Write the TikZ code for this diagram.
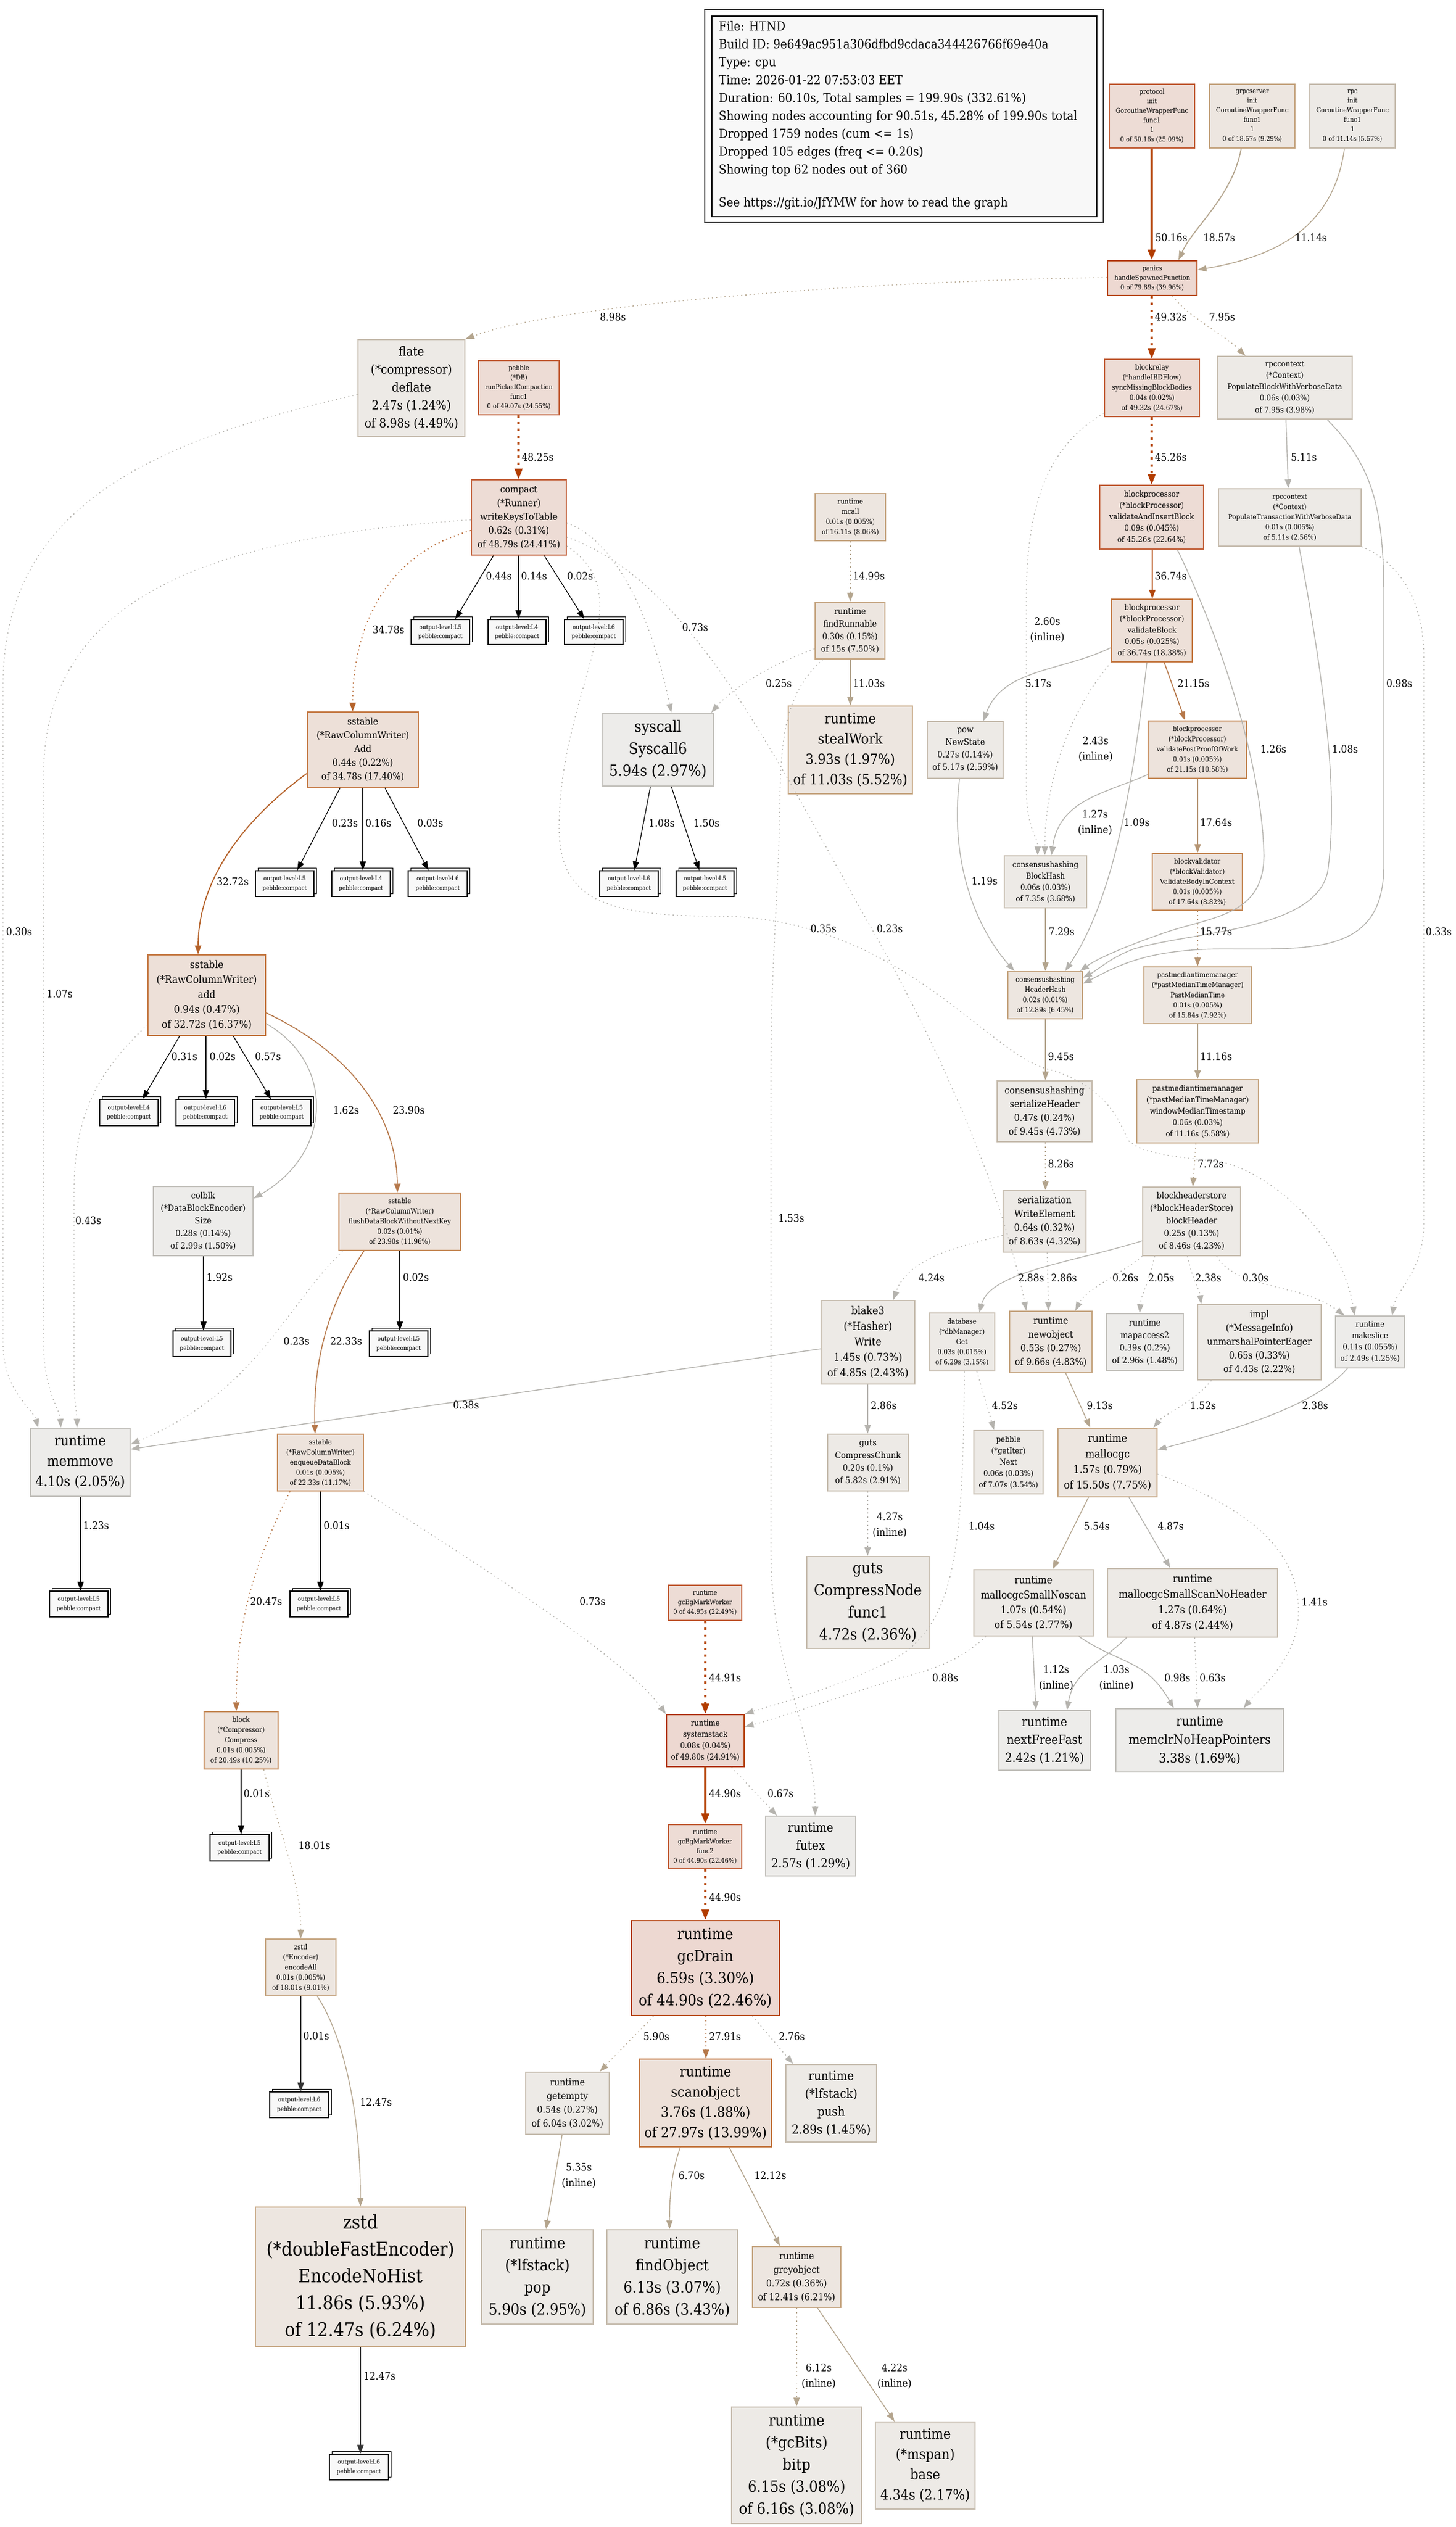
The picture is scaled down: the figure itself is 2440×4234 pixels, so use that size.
\documentclass[tikz,border=0pt]{standalone}
\usepackage{fontspec}
\setmainfont{DejaVu Serif}[FakeStretch=0.9]
\usetikzlibrary{arrows.meta,shadows}
\definecolor{fH1}{HTML}{EDD8D1}\definecolor{bH1}{HTML}{B4400C}
\definecolor{fH2}{HTML}{EDDCD5}\definecolor{bH2}{HTML}{C2603A}
\definecolor{fW1}{HTML}{EDE0D8}\definecolor{bW1}{HTML}{C47842}
\definecolor{fW2}{HTML}{EDE3DC}\definecolor{bW2}{HTML}{C68B5A}
\definecolor{fM}{HTML}{EDE6E0}\definecolor{bM}{HTML}{C6A682}
\definecolor{fG1}{HTML}{EDEAE6}\definecolor{bG1}{HTML}{C6BCAE}
\definecolor{fG2}{HTML}{EDECEA}\definecolor{bG2}{HTML}{C2C0BB}
\definecolor{tagfill}{HTML}{F8F8F8}\definecolor{legfill}{HTML}{F8F8F8}
\definecolor{eH}{HTML}{B23C00}\definecolor{eO1}{HTML}{B2470C}
\definecolor{eO2}{HTML}{B5622A}\definecolor{eO3}{HTML}{B6784A}
\definecolor{eT}{HTML}{B59472}\definecolor{eB}{HTML}{B4A58E}
\definecolor{eG}{HTML}{B5B3AE}\definecolor{eK}{HTML}{333333}
\tikzset{
 nd/.style={draw, rectangle, inner sep=0pt, align=center, line width=0.55pt, text=black},
 cH1/.style={fill=fH1, draw=bH1, line width=0.65pt},
 cH2/.style={fill=fH2, draw=bH2},
 cW1/.style={fill=fW1, draw=bW1},
 cW2/.style={fill=fW2, draw=bW2},
 cM/.style={fill=fM, draw=bM},
 cG1/.style={fill=fG1, draw=bG1},
 cG2/.style={fill=fG2, draw=bG2},
 tagbox/.style={draw=black, fill=tagfill, line width=0.45pt, inner sep=0pt, align=center,
   font=\fontsize{2.9pt}{4.4pt}\selectfont,
   copy shadow={shadow xshift=1.3pt, shadow yshift=1.3pt, draw=black, fill=tagfill, line width=0.45pt}},
 lbl/.style={inner sep=0pt, align=center, font=\fontsize{5pt}{7.4pt}\selectfont},
 ar/.style={-{Triangle[length=4.2pt,width=3pt]}, line width=0.4pt},
 arh/.style={-{Triangle[length=5pt,width=3.6pt]}},
 arK/.style={ar, draw=black, line width=0.35pt},
 dt/.style={dash pattern=on 0.5pt off 1.5pt},
 dth/.style={dash pattern=on 1.1pt off 2.1pt},
}
\newcommand{\GN}[8]{\node[nd,#6,minimum width={(#4-#2)*0.01cm},minimum height={(#5-#3)*0.01cm},font={\fontsize{\fpeval{#7*0.199}pt}{\fpeval{#7*0.2845}pt}\selectfont}] (#1) at ({(#2+#4)/2},{(#3+#5)/2}) {#8};}
\newcommand{\TG}[6]{\node[tagbox,minimum width={(#4-#2-5)*0.01cm},minimum height={(#5-#3-5)*0.01cm}] (#1) at ({(#2+#4-5)/2},{(#3+#5+5)/2}) {output-level:#6\\pebble:compact};}
\newcommand{\EL}[4]{\node[lbl] (#1) at (#2,#3) {#4};}
\begin{document}
\begin{tikzpicture}[x=0.01cm,y=-0.01cm]
\fill[white] (0,0) rectangle (2440,4234);
\path[use as bounding box] (0,0) rectangle (2440,4234);
% legend
\node[draw=black!75, line width=0.7pt, minimum width={668*0.01cm}, minimum height={357*0.01cm}, inner sep=0pt] (legendframe) at (1515,194.5) {};
\node[draw=black, fill=legfill, line width=0.7pt, minimum width={645*0.01cm}, minimum height={336*0.01cm}, inner sep=0pt] (legendbox) at (1515.5,195) {};
\node[anchor=west, align=left, inner sep=0pt, font=\fontsize{5.97pt}{8.54pt}\selectfont] (legendtext) at (1204,193) {File: HTND\\Build ID: 9e649ac951a306dfbd9cdaca344426766f69e40a\\Type: cpu\\Time: 2026-01-22 07:53:03 EET\\Duration: 60.10s, Total samples = 199.90s (332.61\%)\\Showing nodes accounting for 90.51s, 45.28\% of 199.90s total\\Dropped 1759 nodes (cum <= 1s)\\Dropped 105 edges (freq <= 0.20s)\\Showing top 62 nodes out of 360\\[7pt]See https://git.io/JfYMW for how to read the graph};
% nodes
\GN{prot}{1859}{141}{2002}{248}{cH2}{16}{protocol\\init\\GoroutineWrapperFunc\\func1\\1\\0 of 50.16s (25.09\%)}
\GN{grpc}{2027}{141}{2170}{248}{cM}{16}{grpcserver\\init\\GoroutineWrapperFunc\\func1\\1\\0 of 18.57s (9.29\%)}
\GN{rpc}{2195}{141}{2338}{248}{cG1}{16}{rpc\\init\\GoroutineWrapperFunc\\func1\\1\\0 of 11.14s (5.57\%)}
\GN{panics}{1856}{437}{2006}{495}{cH1}{16}{panics\\handleSpawnedFunction\\0 of 79.89s (39.96\%)}
\GN{flate}{600}{569}{779}{731}{cG1}{30}{flate\\(*compressor)\\deflate\\2.47s (1.24\%)\\of 8.98s (4.49\%)}
\GN{pebble}{802}{604}{937}{695}{cH2}{16}{pebble\\(*DB)\\runPickedCompaction\\func1\\0 of 49.07s (24.55\%)}
\GN{compact}{790}{804}{949}{930}{cH2}{23}{compact\\(*Runner)\\writeKeysToTable\\0.62s (0.31\%)\\of 48.79s (24.41\%)}
\GN{blockrelay}{1851}{602}{2010}{698}{cH2}{17}{blockrelay\\(*handleIBDFlow)\\syncMissingBlockBodies\\0.04s (0.02\%)\\of 49.32s (24.67\%)}
\GN{rpcctxB}{2040}{597}{2266}{702}{cG1}{19}{rpccontext\\(*Context)\\PopulateBlockWithVerboseData\\0.06s (0.03\%)\\of 7.95s (3.98\%)}
\GN{mcall}{1366}{827}{1484}{906}{cM}{17}{runtime\\mcall\\0.01s (0.005\%)\\of 16.11s (8.06\%)}
\GN{findRunnable}{1366}{1009}{1483}{1104}{cM}{21}{runtime\\findRunnable\\0.30s (0.15\%)\\of 15s (7.50\%)}
\GN{stealWork}{1321}{1183}{1529}{1330}{cM}{34}{runtime\\stealWork\\3.93s (1.97\%)\\of 11.03s (5.52\%)}
\GN{vaib}{1843}{813}{2017}{920}{cH2}{19}{blockprocessor\\(*blockProcessor)\\validateAndInsertBlock\\0.09s (0.045\%)\\of 45.26s (22.64\%)}
\GN{rpcctxT}{2042}{819}{2281}{915}{cG1}{17}{rpccontext\\(*Context)\\PopulateTransactionWithVerboseData\\0.01s (0.005\%)\\of 5.11s (2.56\%)}
\GN{validateBlock}{1863}{1004}{1998}{1109}{cW1}{19}{blockprocessor\\(*blockProcessor)\\validateBlock\\0.05s (0.025\%)\\of 36.74s (18.38\%)}
\GN{pow}{1554}{1209}{1681}{1304}{cG1}{21}{pow\\NewState\\0.27s (0.14\%)\\of 5.17s (2.59\%)}
\GN{vppow}{1924}{1208}{2089}{1304}{cW2}{17}{blockprocessor\\(*blockProcessor)\\validatePostProofOfWork\\0.01s (0.005\%)\\of 21.15s (10.58\%)}
\GN{syscall}{1009}{1195}{1196}{1317}{cG2}{37}{syscall\\Syscall6\\5.94s (2.97\%)}
\GN{sAdd}{515}{1193}{701}{1319}{cW1}{23}{sstable\\(*RawColumnWriter)\\Add\\0.44s (0.22\%)\\of 34.78s (17.40\%)}
\GN{sadd}{248}{1600}{445}{1735}{cW1}{25}{sstable\\(*RawColumnWriter)\\add\\0.94s (0.47\%)\\of 32.72s (16.37\%)}
\GN{blockhash}{1683}{1434}{1821}{1521}{cG1}{19}{consensushashing\\BlockHash\\0.06s (0.03\%)\\of 7.35s (3.68\%)}
\GN{blockvalidator}{1931}{1430}{2082}{1525}{cW2}{17}{blockvalidator\\(*blockValidator)\\ValidateBodyInContext\\0.01s (0.005\%)\\of 17.64s (8.82\%)}
\GN{headerhash}{1689}{1628}{1814}{1707}{cM}{17}{consensushashing\\HeaderHash\\0.02s (0.01\%)\\of 12.89s (6.45\%)}
\GN{pmt}{1917}{1620}{2097}{1715}{cM}{17}{pastmediantimemanager\\(*pastMedianTimeManager)\\PastMedianTime\\0.01s (0.005\%)\\of 15.84s (7.92\%)}
\GN{serialize}{1671}{1811}{1830}{1913}{cG1}{23}{consensushashing\\serializeHeader\\0.47s (0.24\%)\\of 9.45s (4.73\%)}
\GN{wmt}{1905}{1809}{2109}{1915}{cM}{19}{pastmediantimemanager\\(*pastMedianTimeManager)\\windowMedianTimestamp\\0.06s (0.03\%)\\of 11.16s (5.58\%)}
\GN{writeel}{1681}{1995}{1820}{2098}{cG1}{23}{serialization\\WriteElement\\0.64s (0.32\%)\\of 8.63s (4.32\%)}
\GN{blockheader}{1915}{1989}{2079}{2104}{cG1}{21}{blockheaderstore\\(*blockHeaderStore)\\blockHeader\\0.25s (0.13\%)\\of 8.46s (4.23\%)}
\GN{colblk}{257}{1988}{424}{2104}{cG2}{21}{colblk\\(*DataBlockEncoder)\\Size\\0.28s (0.14\%)\\of 2.99s (1.50\%)}
\GN{flush}{568}{1999}{772}{2095}{cW2}{17}{sstable\\(*RawColumnWriter)\\flushDataBlockWithoutNextKey\\0.02s (0.01\%)\\of 23.90s (11.96\%)}
\GN{memmove}{51}{2393}{218}{2507}{cG2}{34}{runtime\\memmove\\4.10s (2.05\%)}
\GN{enqueue}{465}{2403}{609}{2498}{cW2}{17}{sstable\\(*RawColumnWriter)\\enqueueDataBlock\\0.01s (0.005\%)\\of 22.33s (11.17\%)}
\GN{blake3}{1376}{2179}{1533}{2319}{cG1}{26}{blake3\\(*Hasher)\\Write\\1.45s (0.73\%)\\of 4.85s (2.43\%)}
\GN{dbget}{1557}{2200}{1667}{2297}{cG1}{17}{database\\(*dbManager)\\Get\\0.03s (0.015\%)\\of 6.29s (3.15\%)}
\GN{newobject}{1692}{2197}{1830}{2300}{cM}{23}{runtime\\newobject\\0.53s (0.27\%)\\of 9.66s (4.83\%)}
\GN{mapaccess2}{1854}{2201}{1983}{2296}{cG2}{21}{runtime\\mapaccess2\\0.39s (0.2\%)\\of 2.96s (1.48\%)}
\GN{impl}{2007}{2186}{2214}{2312}{cG1}{23}{impl\\(*MessageInfo)\\unmarshalPointerEager\\0.65s (0.33\%)\\of 4.43s (2.22\%)}
\GN{makeslice}{2238}{2205}{2354}{2292}{cG2}{19}{runtime\\makeslice\\0.11s (0.055\%)\\of 2.49s (1.25\%)}
\GN{chunk}{1387}{2403}{1522}{2498}{cG1}{21}{guts\\CompressChunk\\0.20s (0.1\%)\\of 5.82s (2.91\%)}
\GN{next}{1632}{2397}{1748}{2503}{cG1}{19}{pebble\\(*getIter)\\Next\\0.06s (0.03\%)\\of 7.07s (3.54\%)}
\GN{mallocgc}{1773}{2393}{1939}{2508}{cM}{26}{runtime\\mallocgc\\1.57s (0.79\%)\\of 15.50s (7.75\%)}
\GN{cnode}{1352}{2608}{1557}{2762}{cG1}{37}{guts\\CompressNode\\func1\\4.72s (2.36\%)}
\GN{noscan}{1632}{2630}{1832}{2741}{cG1}{25}{runtime\\mallocgcSmallNoscan\\1.07s (0.54\%)\\of 5.54s (2.77\%)}
\GN{scannoheader}{1856}{2628}{2141}{2743}{cG1}{26}{runtime\\mallocgcSmallScanNoHeader\\1.27s (0.64\%)\\of 4.87s (2.44\%)}
\GN{gcbg}{1120}{2656}{1243}{2715}{cH2}{16}{runtime\\gcBgMarkWorker\\0 of 44.95s (22.49\%)}
\GN{systemstack}{1117}{2873}{1247}{2960}{cH1}{19}{runtime\\systemstack\\0.08s (0.04\%)\\of 49.80s (24.91\%)}
\GN{block}{342}{2868}{466}{2964}{cW2}{17}{block\\(*Compressor)\\Compress\\0.01s (0.005\%)\\of 20.49s (10.25\%)}
\GN{nextfree}{1674}{2866}{1827}{2966}{cG2}{30}{runtime\\nextFreeFast\\2.42s (1.21\%)}
\GN{memclr}{1870}{2863}{2151}{2969}{cG2}{31}{runtime\\memclrNoHeapPointers\\3.38s (1.69\%)}
\GN{func2}{1120}{3057}{1243}{3131}{cH2}{16}{runtime\\gcBgMarkWorker\\func2\\0 of 44.90s (22.46\%)}
\GN{futex}{1283}{3043}{1434}{3143}{cG2}{30}{runtime\\futex\\2.57s (1.29\%)}
\GN{gcdrain}{1058}{3218}{1306}{3377}{cH1}{37}{runtime\\gcDrain\\6.59s (3.30\%)\\of 44.90s (22.46\%)}
\GN{encodeall}{445}{3249}{563}{3344}{cM}{17}{zstd\\(*Encoder)\\encodeAll\\0.01s (0.005\%)\\of 18.01s (9.01\%)}
\GN{getempty}{881}{3472}{1021}{3576}{cG1}{23}{runtime\\getempty\\0.54s (0.27\%)\\of 6.04s (3.02\%)}
\GN{scanobject}{1072}{3450}{1293}{3597}{cW1}{34}{runtime\\scanobject\\3.76s (1.88\%)\\of 27.97s (13.99\%)}
\GN{push}{1317}{3459}{1469}{3589}{cG1}{30}{runtime\\(*lfstack)\\push\\2.89s (1.45\%)}
\GN{pop}{807}{3736}{994}{3894}{cG1}{37}{runtime\\(*lfstack)\\pop\\5.90s (2.95\%)}
\GN{findobject}{1017}{3736}{1236}{3894}{cG1}{37}{runtime\\findObject\\6.13s (3.07\%)\\of 6.86s (3.43\%)}
\GN{greyobject}{1261}{3764}{1409}{3866}{cM}{23}{runtime\\greyobject\\0.72s (0.36\%)\\of 12.41s (6.21\%)}
\GN{bitp}{1226}{4033}{1444}{4228}{cG1}{37}{runtime\\(*gcBits)\\bitp\\6.15s (3.08\%)\\of 6.16s (3.08\%)}
\GN{base}{1467}{4058}{1634}{4204}{cG1}{34}{runtime\\(*mspan)\\base\\4.34s (2.17\%)}
\GN{encodenohist}{428}{3698}{780}{3932}{cM}{45}{zstd\\(*doubleFastEncoder)\\EncodeNoHist\\11.86s (5.93\%)\\of 12.47s (6.24\%)}
% tag boxes
\TG{T1}{689}{1033}{792}{1080}{L5}
\TG{T2}{818}{1033}{920}{1080}{L4}
\TG{T3}{946}{1033}{1049}{1080}{L6}
\TG{T4}{428}{1454}{531}{1502}{L5}
\TG{T5}{556}{1454}{659}{1502}{L4}
\TG{T6}{684}{1454}{788}{1502}{L6}
\TG{T7}{1005}{1454}{1108}{1502}{L6}
\TG{T8}{1133}{1454}{1235}{1502}{L5}
\TG{T9}{167}{1837}{270}{1886}{L4}
\TG{T10}{295}{1837}{398}{1886}{L6}
\TG{T11}{423}{1837}{526}{1886}{L5}
\TG{T12}{290}{2225}{392}{2273}{L5}
\TG{T13}{619}{2225}{722}{2273}{L5}
\TG{T14}{83}{2661}{186}{2709}{L5}
\TG{T15}{486}{2661}{588}{2709}{L5}
\TG{T16}{352}{3069}{456}{3118}{L5}
\TG{T17}{452}{3500}{556}{3548}{L6}
\TG{T18}{552}{4107}{656}{4155}{L6}
% edges: top
\draw[arh,draw=eH,line width=1.2pt] (prot.south -| 1930,0) -- (panics.north -| 1930,0);
\draw[ar,draw=eB,line width=0.5pt] (grpc.south -| 2080,0) .. controls (2065,330) and (2000,380) .. (panics.north -| 1975,0);
\draw[ar,draw=eB] (rpc.south -| 2253,0) .. controls (2235,380) and (2140,430) .. (panics.east |- 0,452);
\draw[arh,draw=eH,dth,line width=1pt] (panics.south -| 1930,0) -- (blockrelay.north -| 1930,0);
\draw[ar,draw=eB,dt] (panics.south -| 1965,0) .. controls (1990,530) and (2050,560) .. (rpcctxB.north -| 2087,0);
\draw[ar,draw=eB,dt] (panics.west |- 0,465) .. controls (1500,470) and (950,505) .. (flate.north east);
\draw[arh,draw=eH,dth,line width=1pt] (blockrelay.south -| 1930,0) -- (vaib.north -| 1930,0);
\draw[ar,draw=eG] (rpcctxB.south -| 2155,0) -- (rpcctxT.north -| 2159,0);
\draw[arh,draw=eH,dth,line width=1pt] (pebble.south -| 869,0) -- (compact.north -| 869,0);
% compact
\draw[arK] (compact.south -| 827,0) -- (T1.north -| 763,0);
\draw[arK] (compact.south -| 869,0) -- (T2.north -| 869,0);
\draw[arK] (compact.south -| 912,0) -- (T3.north -| 979,0);
\draw[ar,draw=eO2,dt,line width=0.5pt] (compact.west |- 0,889) .. controls (640,930) and (591,1060) .. (sAdd.north -| 591,0);
\draw[ar,draw=eG,dt] (compact.west |- 0,871) .. controls (350,900) and (73,1000) .. (73,1300) -- (73,2250) .. controls (73,2330) and (100,2360) .. (memmove.north -| 102,0);
\draw[ar,draw=eG,dt] (flate.west |- 0,661) .. controls (250,740) and (5,850) .. (5,1150) -- (5,2250) .. controls (5,2330) and (55,2360) .. (memmove.north -| 64,0);
\draw[ar,draw=eG,dt] (compact.east |- 0,876) .. controls (1040,910) and (1095,1050) .. (syscall.north -| 1125,0);
\draw[ar,draw=eG,dt] (compact.east |- 0,900) .. controls (1150,970) and (1290,1250) .. (1440,1520) .. controls (1580,1760) and (1680,2000) .. (newobject.north -| 1720,0);
\draw[ar,draw=eG,dt] (compact.east |- 0,915) .. controls (1080,1000) and (940,1150) .. (937,1380) .. controls (935,1500) and (1000,1535) .. (1200,1535) .. controls (1500,1535) and (1650,1760) .. (1752,1790) .. controls (1840,1815) and (1870,1860) .. (1890,1910) .. controls (1920,1940) and (2000,1938) .. (2060,1950) .. controls (2150,1980) and (2250,2080) .. (makeslice.north -| 2270,0);
% runtime scheduler
\draw[ar,draw=eG,dt] (findRunnable.west |- 0,1087) .. controls (1300,1110) and (1230,1150) .. (syscall.north -| 1192,0);
\draw[ar,draw=eG,dt] (findRunnable.south -| 1379,0) .. controls (1330,1150) and (1308,1200) .. (1307,1340) .. controls (1305,1500) and (1292,1600) .. (1292,1800) -- (1292,2600) .. controls (1292,2800) and (1366,2900) .. (futex.north -| 1366,0);
\draw[ar,draw=eB,dt] (mcall.south -| 1425,0) -- (findRunnable.north -| 1425,0);
\draw[ar,draw=eB] (findRunnable.south -| 1425,0) -- (stealWork.north -| 1425,0);
% blockprocessor
\draw[ar,draw=eO1,line width=0.65pt] (vaib.south -| 1931,0) -- (validateBlock.north -| 1931,0);
\draw[ar,draw=eG] (validateBlock.west |- 0,1085) .. controls (1780,1125) and (1680,1120) .. (pow.north -| 1648,0);
\draw[ar,draw=eO3,line width=0.45pt] (validateBlock.south -| 1951,0) -- (vppow.north -| 1986,0);
\draw[ar,draw=eG,dt] (blockrelay.west |- 0,692) .. controls (1770,740) and (1720,820) .. (1720,1000) -- (1720,1320) .. controls (1720,1390) and (1739,1400) .. (blockhash.north -| 1739,0);
\draw[ar,draw=eG,dt] (validateBlock.south west) .. controls (1800,1180) and (1751,1300) .. (blockhash.north -| 1751,0);
\draw[ar,draw=eG] (vppow.west |- 0,1298) .. controls (1850,1330) and (1775,1340) .. (blockhash.north -| 1762,0);
\draw[ar,draw=eG] (validateBlock.south -| 1922,0) .. controls (1900,1300) and (1870,1500) .. (headerhash.north -| 1785,0);
\draw[ar,draw=eG] (pow.south -| 1608,0) .. controls (1590,1450) and (1640,1560) .. (headerhash.north -| 1700,0);
\draw[ar,draw=eB] (blockhash.south -| 1752,0) -- (headerhash.north -| 1752,0);
\draw[ar,draw=eT,line width=0.45pt] (vppow.south -| 2007,0) -- (blockvalidator.north -| 2007,0);
\draw[ar,draw=eG] (vaib.south -| 1973,0) .. controls (2060,1100) and (2115,1300) .. (2118,1430) .. controls (2120,1530) and (2040,1535) .. (1960,1560) .. controls (1900,1580) and (1840,1605) .. (headerhash.north -| 1810,0);
\draw[ar,draw=eG] (rpcctxT.south -| 2177,0) .. controls (2230,1200) and (2240,1350) .. (2225,1460) .. controls (2205,1560) and (2000,1560) .. (1900,1590) .. controls (1860,1605) and (1840,1625) .. (headerhash.east |- 0,1638);
\draw[ar,draw=eG] (rpcctxB.south -| 2224,0) .. controls (2300,780) and (2319,850) .. (2319,1000) -- (2319,1450) .. controls (2319,1600) and (2200,1590) .. (2050,1590) .. controls (1920,1590) and (1870,1620) .. (headerhash.east |- 0,1648);
\draw[ar,draw=eG,dt] (rpcctxT.south east) .. controls (2340,940) and (2386,1000) .. (2386,1100) -- (2386,2050) .. controls (2386,2130) and (2340,2160) .. (makeslice.north -| 2333,0);
\draw[ar,draw=eT,dt,line width=0.45pt] (blockvalidator.south -| 2007,0) -- (pmt.north -| 2007,0);
\draw[ar,draw=eB] (headerhash.south -| 1752,0) -- (serialize.north -| 1752,0);
\draw[ar,draw=eB] (pmt.south -| 2007,0) -- (wmt.north -| 2007,0);
\draw[ar,draw=eB,dt] (serialize.south -| 1752,0) -- (writeel.north -| 1752,0);
\draw[ar,draw=eB,dt] (wmt.south -| 2004,0) -- (blockheader.north -| 1999,0);
\draw[ar,draw=eG,dt] (writeel.west |- 0,2070) .. controls (1600,2090) and (1520,2110) .. (blake3.north -| 1497,0);
\draw[ar,draw=eG,dt] (writeel.south -| 1755,0) -- (newobject.north -| 1757,0);
\draw[ar,draw=eG] (blockheader.west |- 0,2079) .. controls (1800,2115) and (1660,2130) .. (dbget.north -| 1641,0);
\draw[ar,draw=eG,dt] (blockheader.south west) .. controls (1870,2140) and (1820,2160) .. (newobject.north -| 1802,0);
\draw[ar,draw=eG,dt] (blockheader.south -| 1935,0) .. controls (1925,2150) and (1912,2170) .. (mapaccess2.north -| 1910,0);
\draw[ar,draw=eG,dt] (blockheader.south -| 1990,0) .. controls (2000,2150) and (2010,2160) .. (impl.north -| 2013,0);
\draw[ar,draw=eG,dt] (blockheader.south -| 2039,0) .. controls (2070,2160) and (2180,2150) .. (makeslice.north -| 2253,0);
\draw[ar,draw=eG,dt] (dbget.south -| 1637,0) -- (next.north -| 1666,0);
\draw[ar,draw=eG,dt] (dbget.south -| 1616,0) .. controls (1614,2600) and (1600,2720) .. (1500,2779) .. controls (1400,2830) and (1300,2855) .. (systemstack.north east);
\draw[ar,draw=eG,dt] (noscan.south -| 1652,0) .. controls (1600,2790) and (1550,2800) .. (1500,2814) .. controls (1400,2845) and (1300,2880) .. (systemstack.east |- 0,2893);
\draw[ar,draw=eG] (blake3.south -| 1454,0) -- (chunk.north -| 1454,0);
\draw[ar,draw=eG,dt] (chunk.south -| 1454,0) -- (cnode.north -| 1454,0);
\draw[ar,draw=eG] (blake3.west |- 0,2260) -- (memmove.east |- 0,2428);
\draw[ar,draw=eB] (newobject.south -| 1786,0) -- (mallocgc.north -| 1827,0);
\draw[ar,draw=eG,dt] (impl.south -| 2030,0) .. controls (2000,2350) and (1950,2370) .. (mallocgc.north -| 1933,0);
\draw[ar,draw=eG] (makeslice.south -| 2258,0) .. controls (2200,2360) and (2050,2400) .. (mallocgc.east |- 0,2429);
\draw[ar,draw=eB] (mallocgc.south -| 1824,0) -- (noscan.north -| 1764,0);
\draw[ar,draw=eG] (mallocgc.south -| 1892,0) -- (scannoheader.north -| 1961,0);
\draw[ar,draw=eG,dt] (mallocgc.east |- 0,2470) .. controls (2100,2530) and (2176,2600) .. (2176,2700) .. controls (2176,2780) and (2110,2830) .. (memclr.north -| 2084,0);
\draw[ar,draw=eG] (noscan.south -| 1730,0) -- (nextfree.north -| 1736,0);
\draw[ar,draw=eG] (scannoheader.south -| 1888,0) .. controls (1840,2790) and (1800,2800) .. (nextfree.north -| 1788,0);
\draw[ar,draw=eG] (noscan.south -| 1808,0) .. controls (1880,2790) and (1920,2780) .. (memclr.north -| 1967,0);
\draw[ar,draw=eG,dt] (scannoheader.south -| 2002,0) -- (memclr.north -| 2007,0);
% sstable
\draw[arK] (sAdd.south -| 570,0) -- (T4.north -| 498,0);
\draw[arK] (sAdd.south -| 608,0) -- (T5.north -| 608,0);
\draw[arK] (sAdd.south -| 645,0) -- (T6.north -| 718,0);
\draw[arK] (syscall.south -| 1090,0) -- (T7.north -| 1063,0);
\draw[arK] (syscall.south -| 1125,0) -- (T8.north -| 1172,0);
\draw[arK] (sadd.south -| 301,0) -- (T9.north -| 239,0);
\draw[arK] (sadd.south -| 345,0) -- (T10.north -| 345,0);
\draw[arK] (sadd.south -| 391,0) -- (T11.north -| 454,0);
\draw[ar,draw=eO2,line width=0.5pt] (sAdd.west |- 0,1296) .. controls (400,1380) and (332,1480) .. (sadd.north -| 332,0);
\draw[ar,draw=eG] (sadd.east |- 0,1715) .. controls (560,1780) and (560,1930) .. (colblk.east |- 0,2008);
\draw[ar,draw=eO3,line width=0.45pt] (sadd.east |- 0,1697) .. controls (600,1770) and (665,1880) .. (flush.north -| 666,0);
\draw[ar,draw=eG,dt] (sadd.west |- 0,1717) .. controls (160,1800) and (124,1870) .. (124,2000) -- (124,2300) .. controls (124,2350) and (129,2370) .. (memmove.north -| 129,0);
\draw[arK] (colblk.south -| 341,0) -- (T12.north -| 341,0);
\draw[arK] (flush.south -| 670,0) -- (T13.north -| 670,0);
\draw[ar,draw=eG,dt] (flush.south -| 574,0) .. controls (470,2200) and (430,2330) .. (memmove.east |- 0,2420);
\draw[ar,draw=eO3,line width=0.45pt] (flush.south -| 610,0) .. controls (540,2200) and (525,2300) .. (enqueue.north -| 528,0);
\draw[arK] (memmove.south -| 135,0) -- (T14.north -| 135,0);
\draw[arK] (enqueue.south -| 537,0) -- (T15.north -| 537,0);
\draw[ar,draw=eO3,dt,line width=0.45pt] (enqueue.south -| 486,0) .. controls (410,2650) and (396,2750) .. (block.north -| 396,0);
\draw[ar,draw=eG,dt] (enqueue.south east) .. controls (800,2620) and (1050,2780) .. (systemstack.north west);
% gc
\draw[arh,draw=eH,dth,line width=1pt] (gcbg.south -| 1182,0) -- (systemstack.north -| 1182,0);
\draw[arh,draw=eH,line width=1.2pt] (systemstack.south -| 1182,0) -- (func2.north -| 1182,0);
\draw[ar,draw=eG,dt] (systemstack.south -| 1226,0) -- (futex.north -| 1302,0);
\draw[arh,draw=eH,dth,line width=1pt] (func2.south -| 1182,0) -- (gcdrain.north -| 1182,0);
\draw[arK] (block.south -| 404,0) -- (T16.north -| 404,0);
\draw[ar,draw=eB,dt] (block.south -| 442,0) .. controls (470,3080) and (504,3150) .. (encodeall.north -| 504,0);
\draw[ar,draw=eK,line width=0.6pt] (encodeall.south -| 504,0) -- (T17.north -| 504,0);
\draw[ar,draw=eB] (encodeall.south -| 532,0) .. controls (580,3420) and (604,3550) .. (encodenohist.north -| 604,0);
\draw[ar,draw=eK,line width=0.6pt] (encodenohist.south -| 604,0) -- (T18.north -| 604,0);
\draw[ar,draw=eB,dt] (gcdrain.south -| 1095,0) -- (getempty.north -| 1005,0);
\draw[ar,draw=eO3,dt,line width=0.45pt] (gcdrain.south -| 1183,0) -- (scanobject.north -| 1183,0);
\draw[ar,draw=eG,dt] (gcdrain.south -| 1261,0) -- (push.north -| 1329,0);
\draw[ar,draw=eB] (getempty.south -| 942,0) -- (pop.north -| 915,0);
\draw[ar,draw=eB] (scanobject.south -| 1140,0) .. controls (1125,3640) and (1122,3680) .. (findobject.north -| 1122,0);
\draw[ar,draw=eB] (scanobject.south -| 1222,0) -- (greyobject.north -| 1307,0);
\draw[ar,draw=eB,dt] (greyobject.south -| 1335,0) -- (bitp.north -| 1335,0);
\draw[ar,draw=eB] (greyobject.south -| 1370,0) -- (base.north -| 1499,0);
% edge labels
\EL{l1}{1963}{398}{50.16s}
\EL{l2}{2043}{398}{18.57s}
\EL{l3}{2197}{398}{11.14s}
\EL{l4}{1962}{531}{49.32s}
\EL{l5}{2048}{531}{7.95s}
\EL{l6}{1027}{531}{8.98s}
\EL{l7}{1962}{766}{45.26s}
\EL{l8}{2185}{766}{5.11s}
\EL{l9}{901}{766}{48.25s}
\EL{l10}{836}{965}{0.44s}
\EL{l11}{895}{965}{0.14s}
\EL{l12}{972}{965}{0.02s}
\EL{l13}{651}{1055}{34.78s}
\EL{l14}{1456}{965}{14.99s}
\EL{l15}{1962}{965}{36.74s}
\EL{l16}{1165}{1051}{0.73s}
\EL{l17}{1755}{1055}{2.60s\\(inline)}
\EL{l18}{1305}{1145}{0.25s}
\EL{l19}{1456}{1145}{11.03s}
\EL{l20}{1740}{1145}{5.17s}
\EL{l21}{2000}{1145}{21.15s}
\EL{l22}{2345}{1145}{0.98s}
\EL{l23}{1836}{1255}{2.43s\\(inline)}
\EL{l24}{2134}{1255}{1.26s}
\EL{l25}{2254}{1255}{1.08s}
\EL{l26}{1835}{1378}{1.27s\\(inline)}
\EL{l27}{1905}{1378}{1.09s}
\EL{l28}{2038}{1378}{17.64s}
\EL{l29}{578}{1379}{0.23s}
\EL{l30}{634}{1379}{0.16s}
\EL{l31}{721}{1379}{0.03s}
\EL{l32}{1109}{1379}{1.08s}
\EL{l33}{1184}{1379}{1.50s}
\EL{l34}{390}{1477}{32.72s}
\EL{l35}{1650}{1476}{1.19s}
\EL{l36}{32}{1561}{0.30s}
\EL{l37}{1380}{1556}{0.35s}
\EL{l38}{1491}{1556}{0.23s}
\EL{l39}{1779}{1561}{7.29s}
\EL{l40}{2038}{1561}{15.77s}
\EL{l41}{2411}{1561}{0.33s}
\EL{l42}{100}{1665}{1.07s}
\EL{l43}{309}{1770}{0.31s}
\EL{l44}{373}{1770}{0.02s}
\EL{l45}{449}{1770}{0.57s}
\EL{l46}{1778}{1770}{9.45s}
\EL{l47}{2038}{1770}{11.16s}
\EL{l48}{580}{1860}{1.62s}
\EL{l49}{685}{1860}{23.90s}
\EL{l50}{1778}{1950}{8.26s}
\EL{l51}{2029}{1950}{7.72s}
\EL{l52}{1326}{2041}{1.53s}
\EL{l53}{148}{2045}{0.43s}
\EL{l54}{368}{2140}{1.92s}
\EL{l55}{697}{2140}{0.02s}
\EL{l56}{1561}{2141}{4.24s}
\EL{l57}{1728}{2141}{2.88s}
\EL{l58}{1783}{2141}{2.86s}
\EL{l59}{1886}{2141}{0.26s}
\EL{l60}{1946}{2141}{2.05s}
\EL{l61}{2025}{2141}{2.38s}
\EL{l62}{2104}{2141}{0.30s}
\EL{l63}{497}{2247}{0.23s}
\EL{l64}{580}{2247}{22.33s}
\EL{l65}{781}{2354}{0.38s}
\EL{l66}{1481}{2355}{2.86s}
\EL{l67}{1684}{2355}{4.52s}
\EL{l68}{1843}{2355}{9.13s}
\EL{l69}{2016}{2355}{1.52s}
\EL{l70}{2204}{2355}{2.38s}
\EL{l71}{161}{2556}{1.23s}
\EL{l72}{564}{2556}{0.01s}
\EL{l73}{1491}{2555}{4.27s\\(inline)}
\EL{l74}{1645}{2557}{1.04s}
\EL{l75}{1838}{2557}{5.54s}
\EL{l76}{1962}{2557}{4.87s}
\EL{l77}{446}{2683}{20.47s}
\EL{l78}{993}{2683}{0.73s}
\EL{l79}{2203}{2684}{1.41s}
\EL{l80}{1215}{2811}{44.91s}
\EL{l81}{1584}{2811}{0.88s}
\EL{l82}{1770}{2811}{1.12s\\(inline)}
\EL{l83}{1871}{2811}{1.03s\\(inline)}
\EL{l84}{1973}{2811}{0.98s}
\EL{l85}{2032}{2811}{0.63s}
\EL{l86}{430}{3005}{0.01s}
\EL{l87}{1215}{3005}{44.90s}
\EL{l88}{1308}{3005}{0.67s}
\EL{l89}{527}{3092}{18.01s}
\EL{l90}{1215}{3179}{44.90s}
\EL{l91}{530}{3411}{0.01s}
\EL{l92}{1100}{3412}{5.90s}
\EL{l93}{1215}{3412}{27.91s}
\EL{l94}{1327}{3412}{2.76s}
\EL{l95}{630}{3522}{12.47s}
\EL{l96}{970}{3645}{5.35s\\(inline)}
\EL{l97}{1159}{3645}{6.70s}
\EL{l98}{1291}{3645}{12.12s}
\EL{l99}{636}{3981}{12.47s}
\EL{l100}{1372}{3981}{6.12s\\(inline)}
\EL{l101}{1499}{3981}{4.22s\\(inline)}
\end{tikzpicture}
\end{document}
